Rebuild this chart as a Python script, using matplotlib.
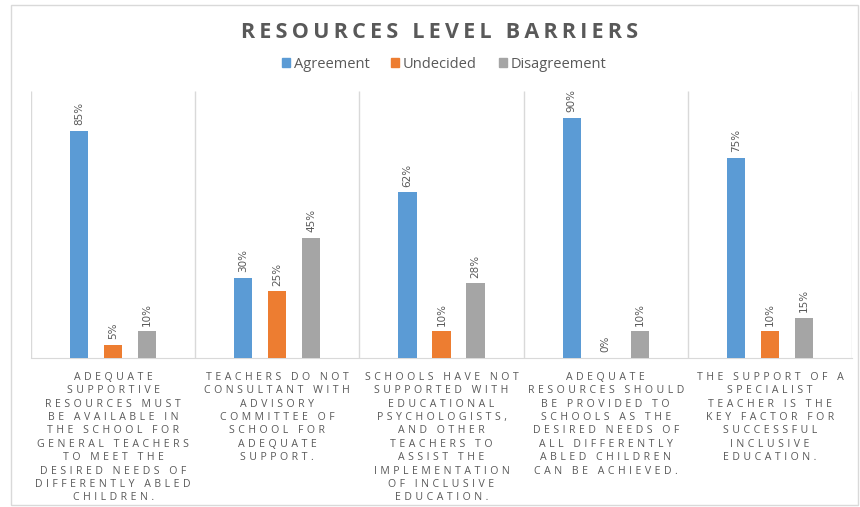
import matplotlib.pyplot as plt
from matplotlib.patches import Patch, Rectangle

categories = [
    "ADEQUATE\nSUPPORTIVE\nRESOURCES MUST\nBE AVAILABLE IN\nTHE SCHOOL FOR\nGENERAL TEACHERS\nTO MEET THE\nDESIRED NEEDS OF\nDIFFERENTLY ABLED\nCHILDREN.",
    "TEACHERS DO NOT\nCONSULTANT WITH\nADVISORY\nCOMMITTEE OF\nSCHOOL FOR\nADEQUATE\nSUPPORT.",
    "SCHOOLS HAVE NOT\nSUPPORTED WITH\nEDUCATIONAL\nPSYCHOLOGISTS,\nAND OTHER\nTEACHERS TO\nASSIST THE\nIMPLEMENTATION\nOF INCLUSIVE\nEDUCATION.",
    "ADEQUATE\nRESOURCES SHOULD\nBE PROVIDED TO\nSCHOOLS AS THE\nDESIRED NEEDS OF\nALL DIFFERENTLY\nABLED CHILDREN\nCAN BE ACHIEVED.",
    "THE SUPPORT OF A\nSPECIALIST\nTEACHER IS THE\nKEY FACTOR FOR\nSUCCESSFUL\nINCLUSIVE\nEDUCATION.",
]
series_names = ["Agreement", "Undecided", "Disagreement"]
agreement = [85, 30, 62, 90, 75]
undecided = [5, 25, 10, 0, 10]
disagreement = [10, 45, 28, 10, 15]

colors = ["#5B9BD5", "#ED7D31", "#A5A5A5"]
text_gray = "#595959"
grid_gray = "#D9D9D9"


def tracked(s, gap="\u2009"):
    # widen letter spacing line by line
    return "\n".join(gap.join(line) for line in s.split("\n"))


fig = plt.figure(figsize=(8.6, 5.07), dpi=100)
ax = fig.add_axes([31 / 860, 149 / 507, 821 / 860, 267 / 507])

offsets = [-0.207, 0.0, 0.207]
width = 0.11
x = list(range(len(categories)))
for vals, off, col in zip([agreement, undecided, disagreement], offsets, colors):
    xs = [i + off for i in x]
    bars = ax.bar(xs, vals, width=width, color=col, zorder=3)
    for b, v in zip(bars, vals):
        ax.annotate(f"{v}%", (b.get_x() + b.get_width() / 2, v),
                    xytext=(0, 4), textcoords="offset points",
                    rotation=90, ha="center", va="bottom",
                    fontsize=7.5, color=text_gray,
                    family=["Liberation Sans Narrow", "DejaVu Sans"])

ax.vlines([i - 0.5 for i in range(len(categories) + 1)], 0, 100,
          color=grid_gray, lw=1, zorder=1)
ax.set_xlim(-0.5, 4.5)
ax.set_ylim(0, 100)
ax.set_yticks([])
for s in ["top", "left", "right"]:
    ax.spines[s].set_visible(False)
ax.spines["bottom"].set_color(grid_gray)
ax.set_xticks(x)
ax.set_xticklabels([tracked(c, "\u2009\u2009") for c in categories],
                   fontsize=7.6, color=text_gray, linespacing=1.3, va="top",
                   family="Open Sans")
ax.tick_params(axis="x", length=0, pad=10)

fig.text(440 / 860, 1 - 32 / 507, tracked("RESOURCES LEVEL BARRIERS"),
         ha="center", va="center", fontsize=15.5, fontweight="bold",
         color=text_gray, family="Open Sans")

handles = [Patch(color=c, label=n) for c, n in zip(colors, series_names)]
leg = fig.legend(handles=handles, loc="center", ncol=3, frameon=False,
                 bbox_to_anchor=(444 / 860, 1 - 64 / 507),
                 handlelength=0.55, handleheight=0.55, handletextpad=0.25,
                 columnspacing=1.5,
                 prop={"family": "Open Sans", "size": 10.5})
for t in leg.get_texts():
    t.set_color(text_gray)

fig.patches.append(Rectangle((11 / 860, 2 / 507), 847 / 860, 500 / 507,
                             transform=fig.transFigure, fill=False,
                             edgecolor=grid_gray, lw=1))

fig.savefig("out.png", dpi=100)
